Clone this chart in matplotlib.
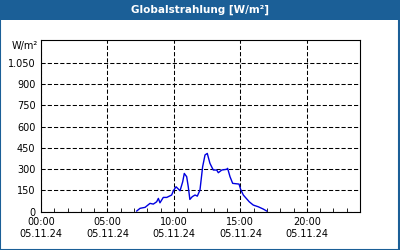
import matplotlib
matplotlib.use("Agg")
import matplotlib.pyplot as plt
from matplotlib.patches import Rectangle

# Stunden seit 00:00 und Globalstrahlung in W/m²
hours = [7.2, 7.45, 7.83, 8.2, 8.45, 8.7, 8.83, 8.95, 9.2, 9.46, 9.83, 9.96,
         10.16, 10.46, 10.66, 10.78, 10.96, 11.08, 11.2, 11.38, 11.59, 11.76,
         11.96, 12.16, 12.34, 12.51, 12.71, 12.96, 13.22, 13.34, 13.6, 13.97,
         14.04, 14.22, 14.42, 14.9, 15.02, 15.22, 15.67, 15.97, 16.35, 16.72, 16.98]
values = [5, 24, 31, 59, 54, 70, 94, 63, 101, 101, 118, 148,
          176, 148, 211, 270, 247, 176, 87, 106, 118, 110,
          153, 317, 400, 411, 341, 294, 294, 275, 294, 299,
          306, 247, 200, 195, 158, 118, 70, 47, 35, 19, 5]

y_ticks = [0, 150, 300, 450, 600, 750, 900, 1050]
y_labels = ["0", "150", "300", "450", "600", "750", "900", "1.050"]
x_ticks = [0, 5, 10, 15, 20]
x_labels = ["00:00\n05.11.24", "05:00\n05.11.24", "10:00\n05.11.24",
            "15:00\n05.11.24", "20:00\n05.11.24"]

blue = "#1b5f97"
fig = plt.figure(figsize=(4, 2.5), dpi=100)
fig.patch.set_facecolor("white")

# Titelleiste und Rahmen
fig.patches.append(Rectangle((0, 0.92), 1, 0.08, transform=fig.transFigure,
                             facecolor=blue, edgecolor="none"))
fig.patches.append(Rectangle((0.001, 0.002), 0.997, 0.996, transform=fig.transFigure,
                             facecolor="none", edgecolor=blue, linewidth=1.5))
fig.text(0.5, 0.96, "Globalstrahlung [W/m²]", color="white", fontsize=7.5,
         fontweight="bold", ha="center", va="center")

ax = fig.add_axes([0.1025, 0.153, 0.7975, 0.687])
ax.plot(hours, values, color="#0000e0", linewidth=1)
ax.set_xlim(0, 24)
ax.set_ylim(0, 1210)
ax.set_yticks(y_ticks)
ax.set_yticklabels(y_labels)
ax.set_xticks(x_ticks)
ax.set_xticklabels(x_labels)
ax.set_xticks(range(0, 25), minor=True)
ax.grid(True, color="black", linestyle=(0, (4, 2)), linewidth=0.75)
ax.tick_params(axis="both", labelsize=7, colors="black", length=0, pad=4)
ax.tick_params(axis="x", which="both", direction="in", length=3, top=False)
ax.tick_params(axis="x", which="major", length=0)
for sp in ax.spines.values():
    sp.set_linewidth(0.8)
fig.text(0.095, 0.818, "W/m²", fontsize=7, ha="right", va="center")

fig.savefig("out.png", dpi=100)
